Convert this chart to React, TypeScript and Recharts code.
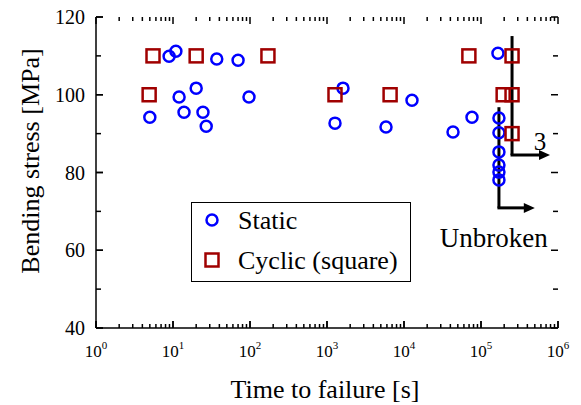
import {
  ScatterChart,
  Scatter,
  XAxis,
  YAxis,
  Legend,
  ReferenceLine,
} from "recharts";

const FONT = '"Liberation Serif", "Times New Roman", serif';

// static tests (time to failure [s], bending stress [MPa])
const staticTime = [
  8.9, 10.9, 37, 70, 20, 12, 97, 5, 13.9, 24.5, 27, 1614, 1270, 5840, 12700,
  43300, 76400, 166000, 171000, 171000, 171000, 171000, 171000, 171000,
];
const staticStress = [
  109.9, 111.2, 109.2, 108.9, 101.7, 99.4, 99.4, 94.2, 95.5, 95.5, 91.9, 101.7,
  92.7, 91.7, 98.6, 90.4, 94.2, 110.7, 94.0, 90.2, 85.3, 81.9, 80.1, 78.1,
];

// cyclic tests, square wave
const cyclicTime = [
  5.5, 4.9, 20, 171, 1270, 6600, 69600, 253000, 194000, 253000, 253000,
];
const cyclicStress = [110, 100, 110, 110, 100, 100, 110, 110, 100, 100, 90];

const xMajorTicks = [1, 10, 100, 1000, 10000, 100000, 1000000];
const xMinorSteps = [2, 3, 4, 5, 6, 7, 8, 9];
const yMajorTicks = [40, 60, 80, 100, 120];
const yMinorTicks = [50, 70, 90, 110];

// unbroken specimens marker + run-out arrows
const unbrokenArrow = [
  { x: 171000, y: 96.8 },
  { x: 171000, y: 70.9 },
  { x: 500000, y: 70.9 },
];
const cyclicRunoutArrow = [
  { x: 253000, y: 115.1 },
  { x: 253000, y: 84.5 },
  { x: 787000, y: 84.5 },
];

const xMinorTicks = xMajorTicks.slice(0, -1).flatMap((d) => xMinorSteps.map((s) => s * d));

const staticData = staticTime.map((t, i) => ({ time: t, stress: staticStress[i] }));
const cyclicData = cyclicTime.map((t, i) => ({ time: t, stress: cyclicStress[i] }));

const AXIS_LINE = { stroke: "#000", strokeWidth: 1.5 };
const TICK_LINE = { stroke: "#000", strokeWidth: 1.5 };

function BottomLabel(props: any) {
  const { x, y, payload } = props;
  return (
    <text x={x} y={y + 29} textAnchor="middle" fontSize={17} fontFamily={FONT} fill="#000">
      <tspan>10</tspan>
      <tspan dy={-8} fontSize={11}>
        {Math.round(Math.log10(payload.value))}
      </tspan>
    </text>
  );
}

function LeftLabel(props: any) {
  const { x, y, payload } = props;
  return (
    <text x={x - 11} y={y} dy="0.35em" textAnchor="end" fontSize={20} fontFamily={FONT} fill="#000">
      {payload.value}
    </text>
  );
}

// inward ticks on both ends of a full-height / full-width reference line
const vTicks = (len: number) => (p: any) => {
  const top = Math.min(p.y1, p.y2);
  const bottom = Math.max(p.y1, p.y2);
  return (
    <g>
      <line x1={p.x1} x2={p.x1} y1={bottom} y2={bottom - len} stroke="#000" strokeWidth={1.5} />
      <line x1={p.x1} x2={p.x1} y1={top} y2={top + len} stroke="#000" strokeWidth={1.5} />
    </g>
  );
};
const hTicks = (len: number) => (p: any) => {
  const left = Math.min(p.x1, p.x2);
  const right = Math.max(p.x1, p.x2);
  return (
    <g>
      <line x1={left} x2={left + len} y1={p.y1} y2={p.y1} stroke="#000" strokeWidth={1.5} />
      <line x1={right} x2={right - len} y1={p.y1} y2={p.y1} stroke="#000" strokeWidth={1.5} />
    </g>
  );
};

const circleShape = (p: any) => (
  <circle cx={p.cx} cy={p.cy} r={5.5} fill="none" stroke="#0000ff" strokeWidth={2.5} />
);
const squareShape = (p: any) => (
  <rect x={p.cx - 6.5} y={p.cy - 6.5} width={13} height={13} fill="none" stroke="#a00000" strokeWidth={2.5} />
);

const plainSegment = (p: any) => (
  <line x1={p.x1} y1={p.y1} x2={p.x2} y2={p.y2} stroke="#000" strokeWidth={3} />
);

const headSegment = (label: string, anchor: "end" | "middle", dx: number, dy: number) => (p: any) => {
  const { x1, y1, x2, y2 } = p;
  return (
    <g>
      <line x1={x1 - 1.5} y1={y1} x2={x2 - 8} y2={y2} stroke="#000" strokeWidth={3} />
      <polygon points={`${x2},${y2} ${x2 - 11},${y2 - 5} ${x2 - 11},${y2 + 5}`} fill="#000" />
      <text x={x2 + dx} y={y2 + dy} textAnchor={anchor} fontSize={anchor === "end" ? 27 : 25} fontFamily={FONT} fill="#000">
        {label}
      </text>
    </g>
  );
};

function LegendBox() {
  return (
    <div style={{ width: 220, height: 80, border: "1.5px solid #000", boxSizing: "border-box", background: "#fff" }}>
      <svg width={217} height={77} style={{ display: "block" }}>
        <circle cx={20} cy={17} r={5.5} fill="none" stroke="#0000ff" strokeWidth={2.5} />
        <text x={46} y={26} fontSize={26} fontFamily={FONT} fill="#000">
          Static
        </text>
        <rect x={13.5} y={50.5} width={13} height={13} fill="none" stroke="#a00000" strokeWidth={2.5} />
        <text x={46} y={66} fontSize={26} fontFamily={FONT} fill="#000">
          Cyclic (square)
        </text>
      </svg>
    </div>
  );
}

const logX = { type: "number" as const, scale: "log" as const, domain: [1, 1000000], allowDataOverflow: true };
const linY = { type: "number" as const, domain: [40, 120], allowDataOverflow: true };

export default function App() {
  return (
    <div style={{ position: "absolute", left: 0, top: 0, width: 581, height: 405, background: "#fff" }}>
      <ScatterChart width={581} height={405} margin={{ top: 17, right: 23, bottom: 0, left: 0 }}>
        <XAxis
          dataKey="time"
          {...logX}
          ticks={xMajorTicks}
          interval={0}
          tick={<BottomLabel />}
          tickLine={TICK_LINE}
          tickSize={-7}
          tickMargin={7}
          height={77}
          axisLine={AXIS_LINE}
        />
        <XAxis xAxisId="top" orientation="top" {...logX} ticks={xMajorTicks} tick={false} tickLine={false} height={0} axisLine={AXIS_LINE} />
        <YAxis
          dataKey="stress"
          {...linY}
          ticks={yMajorTicks}
          interval={0}
          tick={<LeftLabel />}
          tickLine={TICK_LINE}
          tickSize={-7}
          tickMargin={7}
          width={96}
          axisLine={AXIS_LINE}
        />
        <YAxis yAxisId="right" orientation="right" {...linY} ticks={yMajorTicks} tick={false} tickLine={false} width={0} axisLine={AXIS_LINE} />

        {xMajorTicks.map((v) => (
          <ReferenceLine key={`xM${v}`} x={v} ifOverflow="visible" shape={vTicks(7)} />
        ))}
        {xMinorTicks.map((v) => (
          <ReferenceLine key={`xm${v}`} x={v} ifOverflow="visible" shape={vTicks(4)} />
        ))}
        {yMajorTicks.map((v) => (
          <ReferenceLine key={`yM${v}`} y={v} ifOverflow="visible" shape={hTicks(7)} />
        ))}
        {yMinorTicks.map((v) => (
          <ReferenceLine key={`ym${v}`} y={v} ifOverflow="visible" shape={hTicks(5)} />
        ))}

        <Scatter name="Static" data={staticData} shape={circleShape} isAnimationActive={false} />
        <Scatter name="Cyclic (square)" data={cyclicData} shape={squareShape} isAnimationActive={false} />
        <ReferenceLine segment={unbrokenArrow.slice(0, 2)} ifOverflow="visible" shape={plainSegment} />
        <ReferenceLine
          segment={unbrokenArrow.slice(1, 3)}
          ifOverflow="visible"
          shape={headSegment("Unbroken", "end", 13, 39)}
        />
        <ReferenceLine segment={cyclicRunoutArrow.slice(0, 2)} ifOverflow="visible" shape={plainSegment} />
        <ReferenceLine
          segment={cyclicRunoutArrow.slice(1, 3)}
          ifOverflow="visible"
          shape={headSegment("3", "middle", -10, -5)}
        />
        <Legend
          layout="vertical"
          align="center"
          verticalAlign="middle"
          content={<LegendBox />}
          wrapperStyle={{ left: 191, top: 202, width: 220, height: 80 }}
        />
      </ScatterChart>
      {/* axis titles */}
      <svg width={581} height={405} style={{ position: "absolute", left: 0, top: 0, pointerEvents: "none" }}>
        <text x={325} y={398} textAnchor="middle" fontSize={26} fontFamily={FONT} fill="#000">
          Time to failure [s]
        </text>
        <text x={39} y={161} transform="rotate(-90 39 161)" textAnchor="middle" fontSize={26} fontFamily={FONT} fill="#000">
          Bending stress [MPa]
        </text>
      </svg>
    </div>
  );
}
